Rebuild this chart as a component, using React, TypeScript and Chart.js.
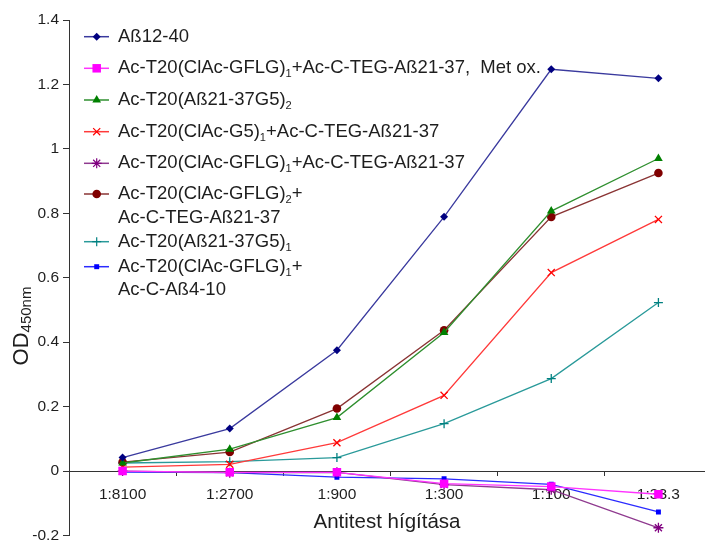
import React, { useEffect, useRef } from 'react';
import { Chart, registerables } from 'chart.js';

Chart.register(...registerables);

// Antibody dilution series (x categories)
const dilutions = ['1:8100', '1:2700', '1:900', '1:300', '1:100', '1:33.3'];
const yTickValues = [-0.2, 0, 0.2, 0.4, 0.6, 0.8, 1, 1.2, 1.4];

// OD450nm readings per construct
const ab1240 = [0.042, 0.132, 0.375, 0.789, 1.247, 1.219];
const gflg1MetOx = [0.0, -0.004, -0.004, -0.039, -0.048, -0.072];
const ab2137G5x2 = [0.025, 0.068, 0.166, 0.43, 0.807, 0.97];
const clacG5 = [0.012, 0.021, 0.088, 0.235, 0.616, 0.781];
const gflg1Teg = [0.0, -0.005, -0.004, -0.042, -0.058, -0.176];
const gflg2Teg = [0.028, 0.059, 0.194, 0.437, 0.789, 0.925];
const ab2137G5x1 = [0.025, 0.029, 0.042, 0.147, 0.287, 0.523];
const gflg1Ab410 = [-0.003, -0.005, -0.019, -0.024, -0.041, -0.127];

// Legend texts; "_{n}" marks a subscript
const legendLabels: string[][] = [
  ['Aß12-40'],
  ['Ac-T20(ClAc-GFLG)_{1}+Ac-C-TEG-Aß21-37,  Met ox.'],
  ['Ac-T20(Aß21-37G5)_{2}'],
  ['Ac-T20(ClAc-G5)_{1}+Ac-C-TEG-Aß21-37'],
  ['Ac-T20(ClAc-GFLG)_{1}+Ac-C-TEG-Aß21-37'],
  ['Ac-T20(ClAc-GFLG)_{2}+', 'Ac-C-TEG-Aß21-37'],
  ['Ac-T20(Aß21-37G5)_{1}'],
  ['Ac-T20(ClAc-GFLG)_{1}+', 'Ac-C-Aß4-10'],
];

const xTitle = 'Antitest hígítása';
const yTitleMain = 'OD';
const yTitleSub = '450nm';

type SeriesStyle = {
  data: number[];
  line: string;
  marker: string;
  shape: string;
  radius: number;
};

const series: SeriesStyle[] = [
  { data: ab1240, line: '#3a3a9e', marker: '#000080', shape: 'rectRot', radius: 4 },
  { data: gflg1MetOx, line: '#ff33ff', marker: '#ff00ff', shape: 'rect', radius: 6 },
  { data: ab2137G5x2, line: '#2f8f2f', marker: '#008000', shape: 'triangle', radius: 5 },
  { data: clacG5, line: '#ff3a3a', marker: '#ff0000', shape: 'crossRot', radius: 5 },
  { data: gflg1Teg, line: '#8f3a8f', marker: '#800080', shape: 'star', radius: 5 },
  { data: gflg2Teg, line: '#8a3434', marker: '#800000', shape: 'circle', radius: 4.3 },
  { data: ab2137G5x1, line: '#2a9a9a', marker: '#008080', shape: 'cross', radius: 4.5 },
  { data: gflg1Ab410, line: '#2b2bff', marker: '#0000ff', shape: 'rect', radius: 3.5 },
];

const FONT = '"Liberation Sans", Arial, sans-serif';
const TEXT = '#1e1e1e';
const AXIS = '#333333';

function drawMarker(ctx: CanvasRenderingContext2D, shape: string, x: number, y: number, r: number, color: string) {
  ctx.save();
  ctx.fillStyle = color;
  ctx.strokeStyle = color;
  ctx.lineWidth = 1.2;
  ctx.beginPath();
  switch (shape) {
    case 'rectRot':
      ctx.moveTo(x, y - r);
      ctx.lineTo(x + r, y);
      ctx.lineTo(x, y + r);
      ctx.lineTo(x - r, y);
      ctx.closePath();
      ctx.fill();
      break;
    case 'rect': {
      const h = r * Math.SQRT1_2;
      ctx.rect(x - h, y - h, 2 * h, 2 * h);
      ctx.fill();
      break;
    }
    case 'triangle':
      ctx.moveTo(x, y - r);
      ctx.lineTo(x + r * 0.87, y + r * 0.5);
      ctx.lineTo(x - r * 0.87, y + r * 0.5);
      ctx.closePath();
      ctx.fill();
      break;
    case 'circle':
      ctx.arc(x, y, r, 0, Math.PI * 2);
      ctx.fill();
      break;
    case 'cross':
      ctx.moveTo(x - r, y);
      ctx.lineTo(x + r, y);
      ctx.moveTo(x, y - r);
      ctx.lineTo(x, y + r);
      ctx.stroke();
      break;
    case 'crossRot': {
      const d = r * Math.SQRT1_2;
      ctx.moveTo(x - d, y - d);
      ctx.lineTo(x + d, y + d);
      ctx.moveTo(x + d, y - d);
      ctx.lineTo(x - d, y + d);
      ctx.stroke();
      break;
    }
    case 'star': {
      const d = r * Math.SQRT1_2;
      ctx.moveTo(x - r, y);
      ctx.lineTo(x + r, y);
      ctx.moveTo(x, y - r);
      ctx.lineTo(x, y + r);
      ctx.moveTo(x - d, y - d);
      ctx.lineTo(x + d, y + d);
      ctx.moveTo(x + d, y - d);
      ctx.lineTo(x - d, y + d);
      ctx.stroke();
      break;
    }
  }
  ctx.restore();
}

// Draws one line of text with "_{..}" subscripts, starting at x, middle baseline y
function drawRichText(ctx: CanvasRenderingContext2D, text: string, x: number, y: number, size: number) {
  const parts = text.split(/(_\{[^}]*\})/);
  let cx = x;
  for (const part of parts) {
    if (!part) continue;
    const sub = part.startsWith('_{');
    const str = sub ? part.slice(2, -1) : part;
    const fs = sub ? size * 0.6 : size;
    ctx.font = `${fs}px ${FONT}`;
    ctx.fillText(str, cx, sub ? y + size * 0.32 : y);
    cx += ctx.measureText(str).width;
  }
}

const legendPlugin = {
  id: 'customLegend',
  afterDraw(chart: Chart) {
    const ctx = chart.ctx;
    const rowY = [36.7, 68.3, 100, 131.7, 163.3, 194, 241.7, 266.7];
    const lineGap = 23.5;
    const size = 18.5;
    ctx.save();
    ctx.textAlign = 'left';
    ctx.textBaseline = 'middle';
    legendLabels.forEach((lines, i) => {
      const s = series[i];
      const y = rowY[i];
      ctx.strokeStyle = s.line;
      ctx.lineWidth = 1.5;
      ctx.beginPath();
      ctx.moveTo(84, y);
      ctx.lineTo(109, y);
      ctx.stroke();
      drawMarker(ctx, s.shape, 96.7, y, s.radius, s.marker);
      ctx.fillStyle = TEXT;
      lines.forEach((ln, j) => drawRichText(ctx, ln, 118, y + j * lineGap, size));
    });
    ctx.restore();
  },
};

const axisTitlesPlugin = {
  id: 'axisTitles',
  afterDraw(chart: Chart) {
    const ctx = chart.ctx;
    ctx.save();
    ctx.fillStyle = TEXT;
    ctx.textBaseline = 'middle';
    ctx.textAlign = 'center';
    ctx.font = `20.5px ${FONT}`;
    ctx.fillText(xTitle, 387, 522.7);

    // rotated y title with subscript
    ctx.translate(22, 326);
    ctx.rotate(-Math.PI / 2);
    ctx.textAlign = 'left';
    ctx.font = `22px ${FONT}`;
    const w1 = ctx.measureText(yTitleMain).width;
    ctx.font = `15px ${FONT}`;
    const w2 = ctx.measureText(yTitleSub).width;
    const start = -(w1 + w2) / 2;
    ctx.font = `22px ${FONT}`;
    ctx.fillText(yTitleMain, start, 0);
    ctx.font = `15px ${FONT}`;
    ctx.fillText(yTitleSub, start + w1, 5);
    ctx.restore();
  },
};

export default function App() {
  const canvasRef = useRef<HTMLCanvasElement | null>(null);

  useEffect(() => {
    const canvas = canvasRef.current;
    if (!canvas) return;
    const W = 720;
    const H = 550;
    const tickFont = { family: FONT, size: 15.5 };
    const chart = new Chart(canvas, {
      type: 'line',
      data: {
        labels: dilutions,
        datasets: series.map((s, i) => ({
          label: legendLabels[i].join(' ').replace(/_\{([^}]*)\}/g, '$1'),
          data: s.data,
          borderColor: s.line,
          borderWidth: 1.3,
          backgroundColor: s.marker,
          pointStyle: s.shape as any,
          pointRadius: s.radius,
          pointBackgroundColor: s.marker,
          pointBorderColor: s.marker,
          pointBorderWidth: ['cross', 'crossRot', 'star'].includes(s.shape) ? 1.3 : 0,
          tension: 0,
          fill: false,
        })),
      },
      options: {
        responsive: false,
        animation: false,
        devicePixelRatio: 1,
        layout: { padding: { left: 0, right: W - 712, top: 20, bottom: H - 535.5 } },
        plugins: {
          legend: { display: false },
          tooltip: { enabled: false },
        },
        scales: {
          x: {
            type: 'category',
            position: { y: 0 } as any,
            offset: true,
            grid: {
              offset: true,
              drawOnChartArea: false,
              drawTicks: true,
              tickLength: 4,
              color: AXIS,
              lineWidth: 1,
            },
            border: { display: true, color: AXIS, width: 1 },
            ticks: {
              font: tickFont,
              color: TEXT,
              padding: 10,
              maxRotation: 0,
              autoSkip: false,
            },
          },
          y: {
            position: 'left',
            min: -0.2,
            max: 1.4,
            afterBuildTicks: (scale: any) => {
              scale.ticks = yTickValues.map((v) => ({ value: v }));
            },
            afterFit: (scale: any) => {
              scale.width = 69;
            },
            ticks: {
              font: tickFont,
              color: TEXT,
              padding: 4,
              callback: (v: any) => String(Math.round(Number(v) * 10) / 10),
            },
            grid: {
              drawOnChartArea: false,
              drawTicks: true,
              tickLength: 6,
              color: AXIS,
              lineWidth: 1,
            },
            border: { display: true, color: AXIS, width: 1 },
          },
        },
      },
      plugins: [legendPlugin, axisTitlesPlugin],
    });
    return () => chart.destroy();
  }, []);

  return (
    <div
      style={{
        position: 'fixed',
        left: 0,
        top: 0,
        width: 705,
        height: 541,
        overflow: 'hidden',
        background: '#ffffff',
      }}
    >
      <canvas ref={canvasRef} width={720} height={550} style={{ display: 'block' }} />
    </div>
  );
}
